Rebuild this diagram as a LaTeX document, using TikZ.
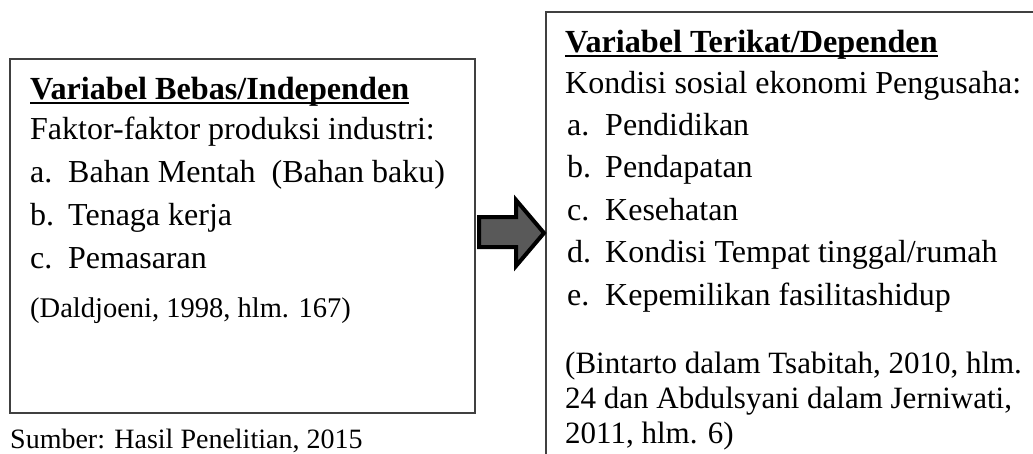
\documentclass[tikz,border=0pt]{standalone}
\usepackage{fontspec}
\setmainfont{Liberation Serif}

\begin{document}
\begin{tikzpicture}[x=1pt,y=1pt,
  kotak/.style={draw=black!75, line width=1.4pt},
  teks/.style={anchor=base west, inner sep=0pt, font=\fontsize{32}{38}\selectfont},
  judul/.style={teks, font=\fontsize{32.2}{38}\selectfont\bfseries},
  sitasi/.style={teks, font=\fontsize{28.5}{34}\selectfont}]
\useasboundingbox (0,0) rectangle (1033,-453);
\clip (0,0) rectangle (1033,-453);
% the two boxes
\draw[kotak] (10,-59) rectangle (475,-413);
\draw[kotak] (546,-12) rectangle (1050,-470);
% left box
\node[judul] (judulA) at (30,-99) {Variabel Bebas/Independen};
\draw[line width=2.8pt] ([yshift=-4pt]judulA.base west) -- ([yshift=-4pt]judulA.base east);
\node[teks] (faktor) at (30,-139) {Faktor-faktor produksi industri:};
\foreach \h/\isi [count=\i] in {a./{Bahan Mentah~ (Bahan baku)}, b./{Tenaga kerja}, c./{Pemasaran}}{
  \node[teks] (hurufA\i) at (30,-139-43*\i) {\h};
  \node[teks] (isiA\i) at (68,-139-43*\i) {\isi};
}
\node[sitasi] (sitasiA) at (30,-317) {(Daldjoeni, 1998, hlm. 167)};
\node[sitasi, font=\fontsize{28}{34}\selectfont] (sumber) at (10,-448) {Sumber: Hasil Penelitian, 2015};
% arrow
\draw[line width=4pt, fill=black!65, line join=miter]
  (479,-217) -- (516,-217) -- (516,-200) -- (544,-233) -- (516,-266) -- (516,-247) -- (479,-247) -- cycle;
% right box
\node[judul] (judulB) at (565,-52) {Variabel Terikat/Dependen};
\draw[line width=2.8pt] ([yshift=-4pt]judulB.base west) -- ([yshift=-4pt]judulB.base east);
\node[teks] (kondisi) at (565,-93) {Kondisi sosial ekonomi Pengusaha:};
\foreach \h/\isi [count=\i] in {a./Pendidikan, b./Pendapatan, c./Kesehatan,
    d./{Kondisi Tempat tinggal/rumah}, e./{Kepemilikan fasilitashidup}}{
  \node[teks] (hurufB\i) at (567,-93-42.4*\i) {\h};
  \node[teks] (isiB\i) at (605,-93-42.4*\i) {\isi};
}
\node[sitasi, font=\fontsize{31}{35}\selectfont] (sitasiB1) at (565,-373) {(Bintarto dalam Tsabitah, 2010, hlm.};
\node[sitasi, font=\fontsize{31}{35}\selectfont] (sitasiB2) at (565,-408) {24 dan Abdulsyani dalam Jerniwati,};
\node[sitasi, font=\fontsize{31}{35}\selectfont] (sitasiB3) at (565,-443) {2011, hlm. 6)};
\end{tikzpicture}
\end{document}
